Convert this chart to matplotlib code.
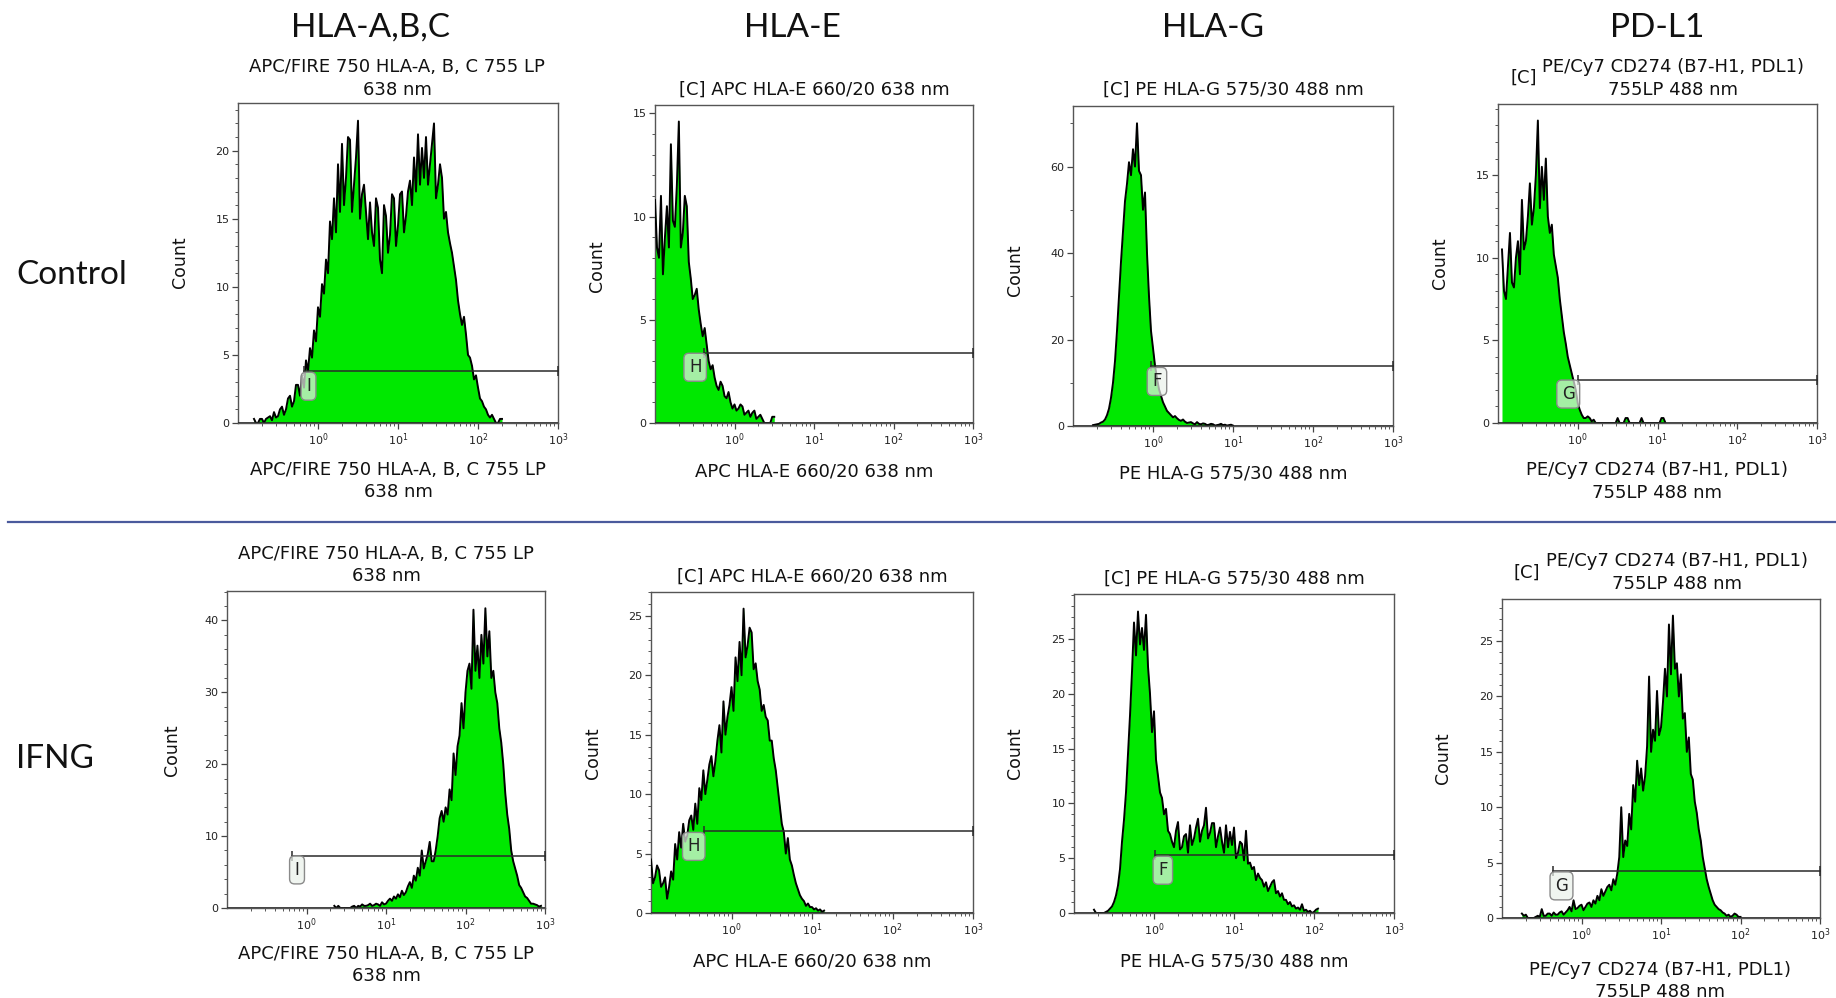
import matplotlib.pyplot as plt
import matplotlib.ticker as mticker
from matplotlib.lines import Line2D
import numpy as np

W, H = 1836, 998
DPI = 100
BIN = 0.025  # histogram bin width in decades

# ---- data: counts per log bin, first bin centre (log10) given by *_start ----
abc_ctrl_start = -0.80
abc_ctrl = [0.3, 0, 0, 0.3, 0.3, 0, 0.3, 0.4, 0.5, 0.2, 0.8, 0.4, 0.5, 1.0, 1.2, 0.6,
            1.0, 1.8, 2.0, 1.2, 1.6, 2.8, 2.8, 2.0, 3.5, 2.6, 4.6, 3.8, 5.5, 4.8, 6.8, 6.0,
            8.5, 7.8, 10.2, 9.5, 12.0, 11.0, 14.8, 13.5, 16.5, 14.0, 19.0, 15.5, 20.5, 16.0,
            18.0, 21.0, 20.8, 15.5, 17.5, 19.5, 22.2, 15.0, 16.8, 17.5, 15.5, 13.5, 16.2, 14.0,
            13.0, 16.5, 15.8, 12.0, 11.0, 16.0, 15.2, 12.5, 13.8, 16.8, 16.5, 13.0, 14.5, 16.8,
            17.0, 14.0, 15.2, 17.0, 17.8, 16.0, 19.5, 17.0, 21.2, 17.5, 20.2, 18.0, 21.0, 17.5,
            19.0, 20.5, 22.0, 16.5, 17.5, 19.0, 18.0, 15.0, 15.5, 14.0, 13.2, 12.5, 11.5, 10.5,
            9.0, 8.0, 7.2, 7.8, 6.5, 5.0, 4.8, 4.2, 3.2, 3.5, 2.6, 1.8, 1.6, 1.2, 1.0, 0.6,
            0.4, 0.6, 0.3, 0, 0, 0.3, 0.3]

hlae_ctrl_start = -1.00
hlae_ctrl = [10.8, 8.5, 8.0, 11.0, 7.2, 9.0, 10.5, 8.5, 13.5, 9.8, 9.5, 11.5, 14.6, 8.5,
             9.2, 11.0, 10.5, 7.8, 7.0, 6.0, 6.2, 6.5, 5.5, 4.8, 4.2, 4.6, 3.8, 3.0, 2.6, 2.8,
             2.2, 1.8, 1.6, 2.0, 1.8, 1.3, 1.2, 1.5, 1.0, 0.7, 0.9, 0.6, 0.7, 0.9, 0.8, 0.4,
             0.5, 0.6, 0.3, 0.5, 0.6, 0.2, 0.3, 0.4, 0.2, 0, 0, 0, 0, 0.3, 0.3]

hlag_ctrl_start = -0.75
hlag_ctrl = [0.2, 0.3, 0.4, 0.5, 0.8, 1.0, 1.5, 2.5, 4.0, 6.5, 10.0, 15.0, 22.0, 30.0, 38.0,
             45.0, 52.0, 56.0, 61.0, 58.0, 64.0, 60.0, 70.0, 59.0, 58.0, 50.0, 54.0, 40.0,
             30.0, 22.0, 18.0, 14.0, 11.0, 8.5, 7.0, 5.5, 4.5, 3.5, 3.0, 2.5, 2.0, 2.3, 1.8,
             1.4, 1.2, 1.5, 1.0, 0.7, 0.8, 0.9, 0.6, 0.4, 0.9, 0.5, 0.4, 0.6, 0.5, 0.2, 0.3,
             0.5, 0.4, 0.1, 0.2, 0.3, 0.5, 0.2, 0.3, 0.1, 0.2, 0.3, 0.1]

pdl1_ctrl_start = -0.95
pdl1_ctrl = [10.5, 8.0, 7.5, 9.5, 11.5, 8.5, 8.2, 10.0, 11.0, 9.0, 13.5, 10.5, 11.0, 12.5,
             14.5, 12.0, 13.0, 15.0, 18.3, 13.0, 15.5, 13.5, 16.0, 12.5, 11.5, 12.0, 10.2, 9.5,
             8.8, 7.5, 6.5, 5.5, 4.8, 4.0, 3.5, 3.0, 2.5, 2.0, 1.2, 0.8, 0.5, 0.3, 0.3, 0.4,
             0.3, 0.1, 0.2, 0, 0, 0, 0, 0, 0, 0, 0, 0, 0, 0, 0.3, 0, 0, 0, 0.3, 0.3, 0, 0, 0,
             0, 0, 0, 0.3, 0, 0, 0, 0, 0, 0, 0, 0, 0, 0.3, 0.3, 0]

abc_ifng_start = 0.35
abc_ifng = [0.3, 0, 0.3, 0, 0, 0, 0, 0, 0, 0.2, 0.3, 0, 0.3, 0.2, 0.5, 0.3, 0.3, 0.4, 0.6,
            0.3, 0.4, 0.6, 0.5, 0.3, 0.8, 0.5, 0.6, 1.0, 1.3, 1.0, 1.6, 1.3, 1.9, 1.5, 2.4,
            1.8, 2.2, 3.0, 3.6, 2.8, 4.5, 3.8, 5.6, 4.5, 8.0, 5.5, 6.5, 7.5, 9.2, 6.5, 6.5,
            8.0, 10.0, 12.5, 13.5, 12.0, 14.0, 13.0, 16.5, 15.0, 21.5, 18.5, 22.5, 24.0, 28.5,
            25.0, 30.0, 33.0, 34.0, 30.5, 41.5, 33.0, 36.5, 32.0, 38.0, 34.0, 41.7, 35.0, 38.5,
            32.0, 33.0, 30.0, 28.5, 25.0, 23.0, 20.0, 16.0, 13.0, 11.0, 8.0, 6.5, 5.5, 4.5,
            3.2, 2.8, 2.2, 1.6, 1.4, 1.0, 0.6, 0.6, 0.5, 0.4, 0.2, 0.3]

hlae_ifng_start = -1.00
hlae_ifng = [4.5, 2.5, 3.0, 4.0, 3.6, 2.2, 2.5, 3.0, 1.2, 2.2, 3.5, 2.8, 5.8, 4.5, 6.8, 5.5,
             7.5, 6.0, 6.5, 7.8, 8.2, 7.0, 9.2, 7.5, 10.5, 9.5, 12.0, 10.0, 11.2, 12.5, 13.2,
             11.5, 12.8, 14.5, 15.8, 13.5, 17.8, 15.0, 16.5, 17.5, 19.0, 17.0, 21.5, 19.5,
             22.8, 20.0, 25.6, 21.5, 22.5, 24.0, 23.6, 20.5, 21.0, 19.5, 18.8, 17.0, 17.5,
             16.5, 16.2, 14.5, 14.5, 13.0, 12.0, 10.5, 9.0, 7.5, 6.8, 5.0, 6.3, 4.5, 4.0, 3.2,
             2.5, 2.0, 1.5, 1.2, 1.0, 0.6, 0.8, 0.5, 0.5, 0.3, 0.4, 0.2, 0.3, 0.1, 0.2]

hlag_ifng_start = -0.75
hlag_ifng = [0.3, 0, 0, 0, 0, 0, 0.1, 0.2, 0.4, 0.6, 1.0, 1.6, 2.5, 4.0, 6.5, 8.5, 11.0,
             14.5, 18.0, 22.0, 26.5, 23.5, 27.5, 24.5, 26.0, 24.0, 27.2, 22.5, 20.0, 16.5,
             18.4, 14.0, 12.5, 11.0, 10.5, 9.0, 9.5, 7.5, 7.2, 6.5, 6.0, 7.5, 8.3, 5.8, 6.0,
             7.0, 7.2, 5.5, 8.0, 6.2, 6.8, 7.8, 8.6, 6.5, 7.5, 8.0, 9.6, 6.8, 7.3, 8.2, 8.2,
             6.0, 7.0, 7.8, 6.5, 5.5, 8.0, 6.0, 7.4, 6.2, 7.8, 5.0, 5.5, 6.5, 6.3, 4.8, 7.5,
             4.5, 4.6, 4.0, 4.2, 3.0, 3.6, 3.2, 3.0, 2.4, 2.8, 2.0, 2.4, 2.8, 3.0, 1.8, 2.0,
             1.5, 1.8, 1.2, 1.2, 0.8, 1.0, 0.6, 0.7, 0.4, 0.5, 0.3, 0.8, 0.2, 0.3, 0.1, 0.2,
             0, 0.1, 0.3, 0.4]

pdl1_ifng_start = -0.75
pdl1_ifng = [0.4, 0.2, 0.3, 0, 0, 0, 0, 0.1, 0.2, 0.1, 0.8, 0.2, 0.2, 0.4, 0.4, 0.2, 0.5,
             0.3, 0.3, 0.5, 0.6, 0.3, 0.5, 0.7, 1.0, 0.6, 1.6, 0.8, 0.9, 1.1, 1.2, 0.7, 1.0,
             1.3, 1.4, 1.0, 1.6, 1.3, 2.0, 1.6, 2.6, 2.0, 2.4, 2.8, 3.0, 2.5, 3.5, 3.0, 4.0,
             5.5, 10.0, 5.5, 7.0, 6.5, 9.4, 8.0, 12.0, 10.5, 14.2, 12.0, 13.5, 11.5, 12.8,
             15.5, 21.8, 15.0, 17.0, 16.0, 20.5, 16.5, 17.2, 19.5, 22.5, 20.0, 26.5, 22.0,
             27.3, 22.5, 23.0, 20.0, 22.0, 18.0, 18.5, 15.0, 16.3, 13.0, 12.5, 10.5, 9.5, 8.0,
             7.0, 5.5, 4.5, 3.5, 2.8, 2.2, 1.6, 1.2, 1.0, 0.8, 0.7, 0.5, 0.4, 0.2, 0.3, 0.1,
             0.2, 0.4, 0.3, 0.1, 0.1]

# gates: letter, level, left end, label position
gate_letters = ['I', 'H', 'F', 'G', 'I', 'H', 'F', 'G']
gate_levels = [3.85, 3.4, 13.8, 2.6, 7.3, 6.9, 5.3, 4.2]
gate_starts = [0.66, 0.41, 0.95, 1.0, 0.65, 0.46, 1.02, 0.44]
gate_label_x = [0.76, 0.32, 1.12, 0.76, 0.76, 0.34, 1.29, 0.56]
gate_label_y = [2.7, 2.7, 10.3, 1.75, 5.3, 5.6, 3.9, 2.9]

y_tops = [23.5, 15.4, 74, 19.3, 44.1, 27.0, 29.1, 28.8]
y_major = [5, 5, 20, 5, 10, 5, 5, 5]
y_minor = [1, 1, 10, 1, 2, 1, 1, 1]

col_headers = ['HLA-A,B,C', 'HLA-E', 'HLA-G', 'PD-L1']
row_labels = ['Control', 'IFNG']

abc_label = 'APC/FIRE 750 HLA-A, B, C 755 LP\n638 nm'
hlae_title = '[C] APC HLA-E 660/20 638 nm'
hlae_label = 'APC HLA-E 660/20 638 nm'
hlag_title = '[C] PE HLA-G 575/30 488 nm'
hlag_label = 'PE HLA-G 575/30 488 nm'
pdl1_label = 'PE/Cy7 CD274 (B7-H1, PDL1)\n755LP 488 nm'

hists = [(abc_ctrl_start, abc_ctrl), (hlae_ctrl_start, hlae_ctrl),
         (hlag_ctrl_start, hlag_ctrl), (pdl1_ctrl_start, pdl1_ctrl),
         (abc_ifng_start, abc_ifng), (hlae_ifng_start, hlae_ifng),
         (hlag_ifng_start, hlag_ifng), (pdl1_ifng_start, pdl1_ifng)]

# axes boxes in pixels: left, right, top, bottom
boxes = [(238, 558, 103, 423), (655, 973, 105, 423), (1073, 1393, 106, 426), (1498, 1817, 104, 423),
         (227, 545, 591, 908), (651, 973, 592, 913), (1074, 1394, 594, 913), (1502, 1820, 599, 918)]

GREEN = '#00e800'
FONT = 'DejaVu Sans'
TSIZE = 13


def fx(px):
    return px / W


def fy(py):
    return 1 - py / H


fig = plt.figure(figsize=(W / DPI, H / DPI), dpi=DPI)
fig.patch.set_facecolor('white')


def ftext(x, y, s, size=TSIZE, family=FONT, ha='center', **kw):
    fig.text(fx(x), fy(y), s, ha=ha, va='center', fontsize=size, family=family,
             color='#111111', linespacing=1.35, **kw)


for i, (l, r, t, b) in enumerate(boxes):
    ax = fig.add_axes([fx(l), fy(b), (r - l) / W, (b - t) / H])
    start, counts = hists[i]
    counts = np.asarray(counts, dtype=float)
    centres = 10 ** (start + BIN * np.arange(len(counts)))
    ax.fill_between(centres, counts, 0, color=GREEN, lw=0, zorder=2)
    ax.plot(centres, counts, color='black', lw=1.4, zorder=3)
    ax.axhline(0, color='#2a2a2a', lw=1.2, zorder=3)
    ax.set_xscale('log')
    ax.set_xlim(0.1, 1000)
    ax.set_ylim(0, y_tops[i])

    # gate
    g0, gy = gate_starts[i], gate_levels[i]
    ax.plot([g0, 1000], [gy, gy], color='#2a2a2a', lw=1.1, marker='|', ms=7,
            mew=1.1, clip_on=False, zorder=4)
    ax.text(gate_label_x[i], gate_label_y[i], gate_letters[i], ha='center', va='center',
            fontsize=12, color='#222222', zorder=5,
            bbox=dict(boxstyle='round,pad=0.3', fc=(0.92, 0.95, 0.92, 0.7), ec='#8a8a8a', lw=1))

    ax.xaxis.set_major_locator(mticker.FixedLocator([1, 10, 100, 1000]))
    ax.xaxis.set_major_formatter(mticker.FixedFormatter(
        ['$10^{0}$', '$10^{1}$', '$10^{2}$', '$10^{3}$']))
    ax.xaxis.set_minor_locator(mticker.LogLocator(base=10, subs=np.arange(2, 10), numticks=20))
    ax.xaxis.set_minor_formatter(mticker.NullFormatter())
    ax.yaxis.set_major_locator(mticker.MultipleLocator(y_major[i]))
    ax.yaxis.set_minor_locator(mticker.MultipleLocator(y_minor[i]))
    ax.tick_params(which='major', direction='out', length=4, width=0.9, colors='#444444',
                   labelsize=8, labelcolor='#222222', pad=2)
    ax.tick_params(which='minor', direction='out', length=2, width=0.7, colors='#555555')
    for sp in ax.spines.values():
        sp.set_color('#555555')
        sp.set_linewidth(1.0)

# column headers and row labels
for x, s in zip([370, 792, 1213, 1657], col_headers):
    ftext(x, 28, s, size=24, family='Lato')
ftext(16, 275, row_labels[0], size=24, family='Lato', ha='left')
ftext(16, 759, row_labels[1], size=24, family='Lato', ha='left')

# "Count" y labels
for x, y in [(180, 262), (597, 266), (1015, 270), (1440, 263),
             (172, 750), (593, 753), (1015, 753), (1443, 758)]:
    ftext(x, y, 'Count', size=12.5, rotation=90)

# panel titles (top) and axis labels (bottom)
ftext(397, 78.5, abc_label)
ftext(398, 481, abc_label)
ftext(814, 90, hlae_title)
ftext(814, 472, hlae_label)
ftext(1233, 90, hlag_title)
ftext(1233, 473, hlag_label)
ftext(1524, 78, '[C]')
ftext(1673, 78.5, pdl1_label)
ftext(1657, 481.5, pdl1_label)

ftext(386, 565, abc_label)
ftext(386, 965, abc_label)
ftext(812, 577, hlae_title)
ftext(812, 961, hlae_label)
ftext(1234, 579, hlag_title)
ftext(1234, 961, hlag_label)
ftext(1527, 573, '[C]')
ftext(1677, 572.5, pdl1_label)
ftext(1660, 981, pdl1_label)

# separator between the two rows
fig.add_artist(Line2D([fx(8), 1], [fy(522), fy(522)], color='#4a5a9c', lw=1.6))

fig.savefig('out.png', dpi=DPI, facecolor='white')
